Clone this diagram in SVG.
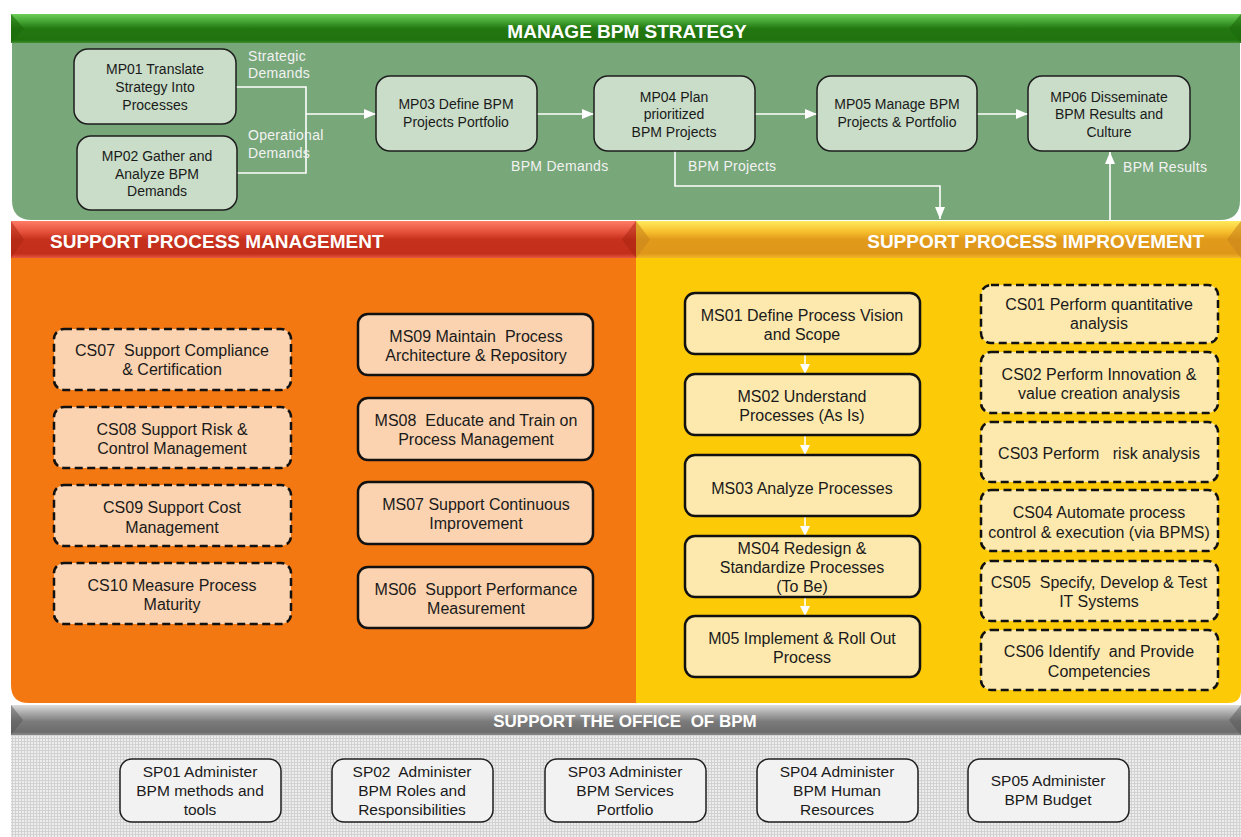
<svg xmlns="http://www.w3.org/2000/svg" width="1241" height="837" viewBox="0 0 1241 837">
<style>
  text { font-family: "Liberation Sans", Arial, sans-serif; white-space: pre; }
  .t14 { font-size: 14px; fill: #1a1a1a; text-anchor: middle; }
  .t15 { font-size: 15.5px; fill: #1a1a1a; text-anchor: middle; }
  .t16 { font-size: 16px; fill: #1a1a1a; text-anchor: middle; }
  .lbl { font-size: 14px; fill: #f2f2f2; letter-spacing: 0.3px; }
  .hdr { font-size: 19px; font-weight: bold; fill: #ffffff; }
  .mp { fill: #c9ddc8; stroke: #1e1e1e; stroke-width: 1.5; }
  .sp { fill: #f2f2f2; stroke: #1e1e1e; stroke-width: 1.5; }
  .od { fill: #fbd3b0; stroke: #111; stroke-width: 2.5; stroke-dasharray: 8 4.5; }
  .os { fill: #fbd3b0; stroke: #111; stroke-width: 2.5; }
  .ys { fill: #fde9ae; stroke: #111; stroke-width: 2.5; }
  .yd { fill: #fde9ae; stroke: #111; stroke-width: 2.5; stroke-dasharray: 8 4.5; }
  .con { fill: none; stroke: #ffffff; stroke-width: 1.6; }
</style>
<defs>
  <linearGradient id="gGreen" x1="0" y1="0" x2="0" y2="1">
    <stop offset="0" stop-color="#6ccf58"/>
    <stop offset="0.25" stop-color="#45a533"/>
    <stop offset="0.5" stop-color="#237812"/>
    <stop offset="0.9" stop-color="#20720d"/>
    <stop offset="1" stop-color="#3f8f30"/>
  </linearGradient>
  <linearGradient id="gRed" x1="0" y1="0" x2="0" y2="1">
    <stop offset="0" stop-color="#ff7c66"/>
    <stop offset="0.3" stop-color="#e4503a"/>
    <stop offset="0.5" stop-color="#c6301c"/>
    <stop offset="0.88" stop-color="#c22f1b"/>
    <stop offset="1" stop-color="#e65540"/>
  </linearGradient>
  <linearGradient id="gYel" x1="0" y1="0" x2="0" y2="1">
    <stop offset="0" stop-color="#ffea5c"/>
    <stop offset="0.3" stop-color="#f6bd2c"/>
    <stop offset="0.5" stop-color="#e19a1a"/>
    <stop offset="0.88" stop-color="#de9719"/>
    <stop offset="1" stop-color="#f2b52a"/>
  </linearGradient>
  <linearGradient id="gGray" x1="0" y1="0" x2="0" y2="1">
    <stop offset="0" stop-color="#dcdcdc"/>
    <stop offset="0.3" stop-color="#a4a4a4"/>
    <stop offset="0.55" stop-color="#7b7b7b"/>
    <stop offset="0.9" stop-color="#6c6c6c"/>
    <stop offset="1" stop-color="#8a8a8a"/>
  </linearGradient>
  <pattern id="grid" width="3" height="3" patternUnits="userSpaceOnUse">
    <rect width="3" height="3" fill="#ededed"/>
    <path d="M0,0.5 H3 M0.5,0 V3" stroke="#d2d2d2" stroke-width="1"/>
  </pattern>
  <marker id="ah" markerWidth="12" markerHeight="10" refX="12" refY="5" orient="auto" markerUnits="userSpaceOnUse">
    <path d="M0,0 L12,5 L0,10 Z" fill="#ffffff"/>
  </marker>
  <marker id="ahs" markerWidth="10" markerHeight="10" refX="10" refY="5" orient="auto" markerUnits="userSpaceOnUse">
    <path d="M0,0 L10,5 L0,10 Z" fill="#ffffff"/>
  </marker>
</defs>

<rect width="1241" height="837" fill="#ffffff"/>

<!-- Manage BPM strategy -->
<g id="sec-strategy">
  <path d="M12,43 H1240 V200 Q1240,220 1220,220 H32 Q12,220 12,200 Z" fill="#78a77a"/>
  <rect x="11" y="14" width="1230" height="29" fill="url(#gGreen)"/>
  <polygon points="11,14 24,28.5 11,43" fill="#1d6a0c" opacity="0.6"/>
  <polygon points="1241,14 1229,28.5 1241,43" fill="#1d6a0c" opacity="0.6"/>
  <text class="hdr" x="627" y="38" text-anchor="middle">MANAGE BPM STRATEGY</text>
</g>

<!-- Support process management -->
<g id="sec-management">
  <path d="M11,258 H637 V703 H29 Q11,703 11,685 Z" fill="#f47812"/>
  <rect x="11" y="221" width="625" height="37" fill="url(#gRed)"/>
  <polygon points="11,221 24,239.5 11,258" fill="#a8240f" opacity="0.5"/>
  <polygon points="636,221 622,239.5 636,258" fill="#a8240f" opacity="0.5"/>
  <text class="hdr" x="50" y="248">SUPPORT PROCESS MANAGEMENT</text>
</g>

<!-- Support process improvement -->
<g id="sec-improvement">
  <path d="M636,258 H1241 V690 Q1241,703 1228,703 H636 Z" fill="#fdca08"/>
  <rect x="636" y="221" width="605" height="37" fill="url(#gYel)"/>
  <polygon points="636,221 650,239.5 636,258" fill="#c9861a" opacity="0.6"/>
  <polygon points="1241,221 1227,239.5 1241,258" fill="#c9861a" opacity="0.6"/>
  <text class="hdr" x="1204" y="248" text-anchor="end">SUPPORT PROCESS IMPROVEMENT</text>
</g>

<!-- Support the office of BPM -->
<g id="sec-office">
  <path d="M11,735 H1241 V837 H11 Z" fill="url(#grid)"/>
  <rect x="11" y="705" width="1230" height="30" fill="url(#gGray)"/>
  <polygon points="11,705 23,720 11,735" fill="#555" opacity="0.5"/>
  <polygon points="1241,705 1229,720 1241,735" fill="#555" opacity="0.5"/>
  <text x="625" y="727" text-anchor="middle" style="font-size:17px;font-weight:bold;fill:#ffffff">SUPPORT THE OFFICE  OF BPM</text>
</g>

<!-- Connectors -->
<g id="connectors">
  <path class="con" d="M236,87 H306 V173 H237"/>
  <path class="con" d="M306,114 H376" marker-end="url(#ah)"/>
  <path class="con" d="M537,114 H594" marker-end="url(#ah)"/>
  <path class="con" d="M755,114 H817" marker-end="url(#ah)"/>
  <path class="con" d="M977,114 H1028" marker-end="url(#ah)"/>
  <path class="con" d="M675,151 V186 H940 V219" marker-end="url(#ah)"/>
  <path class="con" d="M1110,221 V152" marker-end="url(#ah)"/>
  <path class="con" d="M805,354 V374" marker-end="url(#ahs)"/>
  <path class="con" d="M805,435 V455" marker-end="url(#ahs)"/>
  <path class="con" d="M805,516 V536" marker-end="url(#ahs)"/>
  <path class="con" d="M805,597 V616" marker-end="url(#ahs)"/>
  <text class="lbl" x="248" y="61">Strategic</text>
  <text class="lbl" x="248" y="78">Demands</text>
  <text class="lbl" x="248" y="140">Operational</text>
  <text class="lbl" x="248" y="158">Demands</text>
  <text class="lbl" x="511" y="171">BPM Demands</text>
  <text class="lbl" x="688" y="171">BPM Projects</text>
  <text class="lbl" x="1123" y="172">BPM Results</text>
</g>

<!-- Strategy nodes -->
<g id="MP01"><rect class="mp" x="74" y="49" width="162" height="75" rx="14"/>
  <text class="t14"><tspan x="155" y="74">MP01 Translate</tspan><tspan x="155" y="92">Strategy Into</tspan><tspan x="155" y="110">Processes</tspan></text></g>
<g id="MP02"><rect class="mp" x="77" y="136" width="160" height="74" rx="14"/>
  <text class="t14"><tspan x="157" y="161">MP02 Gather and</tspan><tspan x="157" y="179">Analyze BPM</tspan><tspan x="157" y="196">Demands</tspan></text></g>
<g id="MP03"><rect class="mp" x="376" y="76" width="161" height="75" rx="14"/>
  <text class="t14"><tspan x="456" y="109">MP03 Define BPM</tspan><tspan x="456" y="127">Projects Portfolio</tspan></text></g>
<g id="MP04"><rect class="mp" x="594" y="76" width="161" height="75" rx="14"/>
  <text class="t14"><tspan x="674" y="102">MP04 Plan</tspan><tspan x="674" y="119">prioritized</tspan><tspan x="674" y="137">BPM Projects</tspan></text></g>
<g id="MP05"><rect class="mp" x="817" y="76" width="160" height="75" rx="14"/>
  <text class="t14"><tspan x="897" y="109">MP05 Manage BPM</tspan><tspan x="897" y="127">Projects &amp; Portfolio</tspan></text></g>
<g id="MP06"><rect class="mp" x="1028" y="76" width="162" height="75" rx="14"/>
  <text class="t14"><tspan x="1109" y="102">MP06 Disseminate</tspan><tspan x="1109" y="119">BPM Results and</tspan><tspan x="1109" y="137">Culture</tspan></text></g>

<!-- Management nodes -->
<g id="CS07"><rect class="od" x="54" y="329" width="237" height="61" rx="10"/>
  <text class="t16"><tspan x="172" y="356">CS07  Support Compliance</tspan><tspan x="172" y="375">&amp; Certification</tspan></text></g>
<g id="CS08"><rect class="od" x="54" y="407" width="237" height="61" rx="10"/>
  <text class="t16"><tspan x="172" y="435">CS08 Support Risk &amp;</tspan><tspan x="172" y="454">Control Management</tspan></text></g>
<g id="CS09"><rect class="od" x="54" y="485" width="237" height="61" rx="10"/>
  <text class="t16"><tspan x="172" y="513">CS09 Support Cost</tspan><tspan x="172" y="533">Management</tspan></text></g>
<g id="CS10"><rect class="od" x="54" y="563" width="237" height="61" rx="10"/>
  <text class="t16"><tspan x="172" y="591">CS10 Measure Process</tspan><tspan x="172" y="610">Maturity</tspan></text></g>
<g id="MS09"><rect class="os" x="358" y="314" width="235" height="61" rx="10"/>
  <text class="t16"><tspan x="476" y="342">MS09 Maintain  Process</tspan><tspan x="476" y="361">Architecture &amp; Repository</tspan></text></g>
<g id="MS08"><rect class="os" x="358" y="398" width="235" height="62" rx="10"/>
  <text class="t16"><tspan x="476" y="426">MS08  Educate and Train on</tspan><tspan x="476" y="445">Process Management</tspan></text></g>
<g id="MS07"><rect class="os" x="358" y="482" width="235" height="62" rx="10"/>
  <text class="t16"><tspan x="476" y="510">MS07 Support Continuous</tspan><tspan x="476" y="529">Improvement</tspan></text></g>
<g id="MS06"><rect class="os" x="358" y="567" width="235" height="61" rx="10"/>
  <text class="t16"><tspan x="476" y="595">MS06  Support Performance</tspan><tspan x="476" y="614">Measurement</tspan></text></g>

<!-- Improvement nodes -->
<g id="MS01"><rect class="ys" x="685" y="293" width="235" height="61" rx="10"/>
  <text class="t16"><tspan x="802" y="321">MS01 Define Process Vision</tspan><tspan x="802" y="340">and Scope</tspan></text></g>
<g id="MS02"><rect class="ys" x="685" y="374" width="235" height="61" rx="10"/>
  <text class="t16"><tspan x="802" y="402">MS02 Understand</tspan><tspan x="802" y="421">Processes (As Is)</tspan></text></g>
<g id="MS03"><rect class="ys" x="685" y="455" width="235" height="61" rx="10"/>
  <text class="t16"><tspan x="802" y="494">MS03 Analyze Processes</tspan></text></g>
<g id="MS04"><rect class="ys" x="685" y="536" width="235" height="61" rx="10"/>
  <text class="t16"><tspan x="802" y="554">MS04 Redesign &amp;</tspan><tspan x="802" y="573">Standardize Processes</tspan><tspan x="802" y="592">(To Be)</tspan></text></g>
<g id="M05"><rect class="ys" x="685" y="616" width="235" height="61" rx="10"/>
  <text class="t16"><tspan x="802" y="644">M05 Implement &amp; Roll Out</tspan><tspan x="802" y="663">Process</tspan></text></g>
<g id="CS01"><rect class="yd" x="981" y="285" width="237" height="58" rx="10"/>
  <text class="t16"><tspan x="1099" y="310">CS01 Perform quantitative</tspan><tspan x="1099" y="329">analysis</tspan></text></g>
<g id="CS02"><rect class="yd" x="981" y="352" width="237" height="61" rx="10"/>
  <text class="t16"><tspan x="1099" y="380">CS02 Perform Innovation &amp;</tspan><tspan x="1099" y="399">value creation analysis</tspan></text></g>
<g id="CS03"><rect class="yd" x="981" y="422" width="237" height="60" rx="10"/>
  <text class="t16"><tspan x="1099" y="459">CS03 Perform   risk analysis</tspan></text></g>
<g id="CS04"><rect class="yd" x="981" y="490" width="237" height="61" rx="10"/>
  <text class="t16"><tspan x="1099" y="518">CS04 Automate process</tspan><tspan x="1099" y="538">control &amp; execution (via BPMS)</tspan></text></g>
<g id="CS05"><rect class="yd" x="981" y="561" width="237" height="60" rx="10"/>
  <text class="t16"><tspan x="1099" y="588">CS05  Specify, Develop &amp; Test</tspan><tspan x="1099" y="607">IT Systems</tspan></text></g>
<g id="CS06"><rect class="yd" x="981" y="630" width="237" height="60" rx="10"/>
  <text class="t16"><tspan x="1099" y="657">CS06 Identify  and Provide</tspan><tspan x="1099" y="677">Competencies</tspan></text></g>

<!-- Office nodes -->
<g id="SP01"><rect class="sp" x="120" y="759" width="161" height="63" rx="12"/>
  <text class="t15"><tspan x="200" y="777">SP01 Administer</tspan><tspan x="200" y="796">BPM methods and</tspan><tspan x="200" y="815">tools</tspan></text></g>
<g id="SP02"><rect class="sp" x="332" y="759" width="161" height="63" rx="12"/>
  <text class="t15"><tspan x="412" y="777">SP02  Administer</tspan><tspan x="412" y="796">BPM Roles and</tspan><tspan x="412" y="815">Responsibilities</tspan></text></g>
<g id="SP03"><rect class="sp" x="545" y="759" width="161" height="63" rx="12"/>
  <text class="t15"><tspan x="625" y="777">SP03 Administer</tspan><tspan x="625" y="796">BPM Services</tspan><tspan x="625" y="815">Portfolio</tspan></text></g>
<g id="SP04"><rect class="sp" x="757" y="759" width="161" height="63" rx="12"/>
  <text class="t15"><tspan x="837" y="777">SP04 Administer</tspan><tspan x="837" y="796">BPM Human</tspan><tspan x="837" y="815">Resources</tspan></text></g>
<g id="SP05"><rect class="sp" x="968" y="759" width="161" height="63" rx="12"/>
  <text class="t15"><tspan x="1048" y="786">SP05 Administer</tspan><tspan x="1048" y="805">BPM Budget</tspan></text></g>
</svg>
